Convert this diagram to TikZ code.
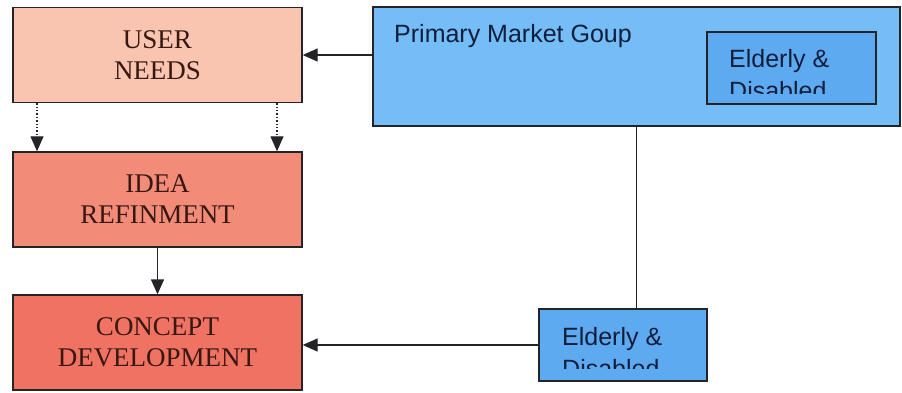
\documentclass[tikz,border=0pt]{standalone}
\usepackage{fontspec}
\setmainfont{Liberation Serif}
\newfontfamily\arialfont{Liberation Sans}
\usetikzlibrary{arrows.meta}

\definecolor{userfill}{RGB}{249,196,176}
\definecolor{ideafill}{RGB}{242,140,120}
\definecolor{conceptfill}{RGB}{240,114,98}
\definecolor{marketfill}{RGB}{116,189,247}
\definecolor{groupfill}{RGB}{94,170,240}
\definecolor{redtext}{RGB}{55,24,18}
\definecolor{bluetext}{RGB}{16,30,60}
\definecolor{edge}{RGB}{35,35,40}

\begin{document}
\begin{tikzpicture}[x=1pt,y=-1pt]
% Box and line styles
\tikzset{
    redbox/.style={draw=edge, line width=1.4pt, minimum width=289pt, minimum height=95pt,
        align=center, text=redtext, font=\fontsize{27}{31}\selectfont, inner sep=0pt},
    bluebox/.style={draw=edge, line width=1.4pt, inner sep=0pt},
    bluetext/.style={text=bluetext, font=\arialfont\fontsize{25}{31}\selectfont, inner sep=0pt},
    arrow/.style={draw=edge, line width=1.4pt, -{Triangle[length=15pt,width=13pt]}},
    dotarrow/.style={arrow, dotted, line width=1.1pt}
}
\useasboundingbox (0,0) rectangle (902,392);
% Process boxes
\node[redbox, fill=userfill] (user) at (157.5,55) {USER\\NEEDS};
\node[redbox, fill=ideafill] (idea) at (157.5,199.5) {IDEA\\REFINMENT};
\node[redbox, fill=conceptfill] (concept) at (157.5,342.5) {CONCEPT\\DEVELOPMENT};
% Market boxes
\node[bluebox, fill=marketfill, minimum width=527pt, minimum height=119pt] (market) at (636.5,66.5) {};
\node[bluetext, anchor=base west] (marketText) at (394,42) {Primary Market Goup};
\node[bluebox, fill=groupfill, minimum width=169pt, minimum height=72pt] (groupA) at (791.5,68) {};
\node[bluebox, fill=groupfill, minimum width=168pt, minimum height=72pt] (groupB) at (623,345) {};
\begin{scope}
\clip ([yshift=11pt]groupA.south west) rectangle (groupA.north east);
\node[bluetext, anchor=base west] (groupAtop) at (729,67) {Elderly \&};
\node[bluetext, anchor=base west] (groupAbot) at (729,99) {Disabled};
\end{scope}
\begin{scope}
\clip ([yshift=13pt]groupB.south west) rectangle (groupB.north east);
\node[bluetext, anchor=base west] (groupBtop) at (562,345) {Elderly \&};
\node[bluetext, anchor=base west] (groupBbot) at (562,377) {Disabled};
\end{scope}
% Connections
\draw[dotarrow] ([xshift=-120.5pt]user.south) -- ([xshift=-120.5pt]idea.north);
\draw[dotarrow] ([xshift=119.5pt]user.south) -- ([xshift=119.5pt]idea.north);
\draw[arrow] (idea.south) -- (concept.north);
\draw[arrow] (market.west |- user) -- (user.east);
\draw[draw=edge, line width=1.4pt] (market.south) -- (market.south |- groupB.north);
\draw[arrow] (groupB.west) -- (groupB.west -| concept.east);
\end{tikzpicture}
\end{document}
